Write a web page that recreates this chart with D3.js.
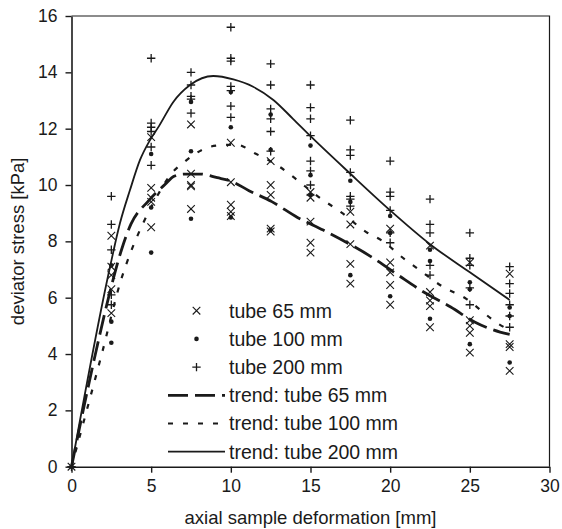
<!DOCTYPE html>
<html>
<head>
<meta charset="utf-8">
<script src="https://cdn.jsdelivr.net/npm/d3@7"></script>
<style>
  html, body { margin: 0; padding: 0; background: #fff; }
  svg { display: block; }
  text { font-family: "Liberation Sans", Arial, Helvetica, sans-serif; fill: #1a1a1a; }
</style>
</head>
<body>
<svg id="chart" width="562" height="529"></svg>
<script>
// ---------- data ----------
const xPositions = [0, 2.5, 5, 7.5, 10, 12.5, 15, 17.5, 20, 22.5, 25, 27.5];

const tube65 = [
  [0],
  [8.2, 7.1, 6.8, 6.3, 5.45],
  [11.7, 9.9, 9.55, 9.4, 8.5],
  [12.15, 10.4, 10.0, 9.95, 9.15],
  [11.5, 10.1, 9.3, 9.05, 8.9],
  [10.85, 10.0, 9.65, 8.45, 8.35],
  [9.75, 9.55, 8.7, 7.95, 7.6],
  [9.05, 8.6, 7.9, 7.2, 6.5],
  [8.45, 7.25, 6.9, 6.45, 5.75],
  [7.85, 6.2, 5.9, 5.7, 4.95],
  [7.25, 5.2, 5.0, 4.75, 4.05],
  [6.85, 4.35, 4.25, 3.4]
];

const tube100 = [
  [0],
  [7.15, 5.15, 4.4],
  [11.1, 9.2, 7.6],
  [12.95, 11.2, 8.8],
  [13.3, 12.05, 8.85],
  [12.5, 11.25, 8.4],
  [11.4, 10.35, 9.65],
  [10.15, 9.4, 6.8],
  [8.9, 8.3, 6.05],
  [7.7, 7.3, 5.25],
  [6.55, 6.3, 4.35],
  [5.65, 5.35, 3.7]
];

const tube200 = [
  [0],
  [9.6, 8.6, 7.7, 6.1, 5.75],
  [14.5, 12.2, 12.05, 11.9, 11.35, 10.7],
  [14.0, 13.55, 13.15, 13.05, 12.55],
  [15.6, 14.5, 14.4, 13.5, 13.35, 12.8, 12.4],
  [14.3, 13.55, 12.7, 12.35, 11.9, 11.2],
  [13.55, 12.75, 12.35, 11.75, 10.85, 10.5, 10.0],
  [12.3, 11.25, 11.05, 10.45, 9.6, 9.5, 9.25],
  [10.85, 9.75, 9.6, 9.1, 8.3, 7.95],
  [9.5, 8.6, 8.3, 7.15, 6.8],
  [8.3, 7.4, 7.15, 6.35, 5.75],
  [7.1, 6.5, 6.15, 5.75, 5.35, 4.95]
];

const trend65X = [0, 1.5, 2.5, 3.15, 3.73, 4.82, 5.98, 6.4, 7.06, 8.07, 9.15, 10, 11.14, 12.57, 14.18, 15.8, 17.4, 18.9, 20.5, 22.1, 23.8, 25.3, 26.9, 27.5];
const trend65Y = [0, 4.0, 6.4, 7.72, 8.61, 9.43, 10.08, 10.3, 10.39, 10.39, 10.26, 10.14, 9.8, 9.41, 8.85, 8.4, 7.92, 7.42, 6.8, 6.2, 5.67, 5.14, 4.78, 4.7];

const trend100X = [0, 1.9, 3.13, 3.74, 4.5, 5.35, 6.37, 7.0, 7.75, 8.7, 9.6, 10.3, 11.6, 13, 14, 15.5, 17, 18.5, 19.5, 20.9, 21.8, 23.3, 24.8, 25.8, 26.6, 27.5];
const trend100Y = [0, 4.0, 6.67, 7.65, 8.65, 9.58, 10.47, 10.78, 11.1, 11.36, 11.42, 11.44, 11.1, 10.67, 10.25, 9.58, 9.0, 8.33, 8.02, 7.37, 7.0, 6.39, 5.95, 5.5, 5.14, 4.85];

const trend200X = [0, 2.42, 3.04, 3.67, 4.3, 4.93, 5.5, 6.39, 7.44, 8.9, 10.16, 11.4, 12.67, 13.9, 14.97, 17.5, 20, 22.5, 25, 27.5];
const trend200Y = [0, 7.1, 8.64, 9.82, 10.89, 11.6, 12.1, 12.95, 13.55, 13.87, 13.75, 13.49, 13.02, 12.35, 11.75, 10.4, 9.1, 7.9, 6.9, 5.92];

const xTicks = [0, 5, 10, 15, 20, 25, 30];
const yTicks = [0, 2, 4, 6, 8, 10, 12, 14, 16];

const legendLabels = ["tube 65 mm", "tube 100 mm", "tube 200 mm", "trend: tube 65 mm", "trend: tube 100 mm", "trend: tube 200 mm"];

// ---------- layout ----------
const svg = d3.select("#chart");
const x = d3.scaleLinear().domain([0, 30]).range([71.5, 549.5]);
const y = d3.scaleLinear().domain([0, 16]).range([466.7, 16]);
const ink = "#1a1a1a";

// axes
const xAxis = d3.axisBottom(x).tickValues(xTicks).tickSize(6).tickPadding(7).tickSizeOuter(0);
const yAxis = d3.axisLeft(y).tickValues(yTicks).tickSize(6).tickPadding(8).tickSizeOuter(0);

const gx = svg.append("g").attr("transform", `translate(0,${y(0)})`).call(xAxis);
const gy = svg.append("g").attr("transform", `translate(${x(0)},0)`).call(yAxis);
[gx, gy].forEach(g => {
  g.select(".domain").attr("stroke", ink).attr("stroke-width", 1.6);
  g.selectAll(".tick line").attr("stroke", ink).attr("stroke-width", 1.4);
  g.selectAll(".tick text").attr("fill", ink).style("font-size", "17.5px")
    .style("font-family", '"Liberation Sans", Arial, sans-serif');
});

// frame top/right
svg.append("path")
  .attr("d", `M${x(0)},${y(16)}H${x(30)}V${y(0)}`)
  .attr("fill", "none").attr("stroke", ink).attr("stroke-width", 1.2);

// axis titles
svg.append("text").attr("x", (x(0) + x(30)) / 2).attr("y", 524)
  .attr("text-anchor", "middle").style("font-size", "18.5px")
  .text("axial sample deformation [mm]");
svg.append("text")
  .attr("transform", `translate(24,${(y(0) + y(16)) / 2}) rotate(-90)`)
  .attr("text-anchor", "middle").style("font-size", "18.5px")
  .text("deviator stress [kPa]");

// ---------- trend lines ----------
const line = d3.line().x(d => x(d[0])).y(d => y(d[1])).curve(d3.curveMonotoneX);
const trends = [
  { xs: trend65X, ys: trend65Y, w: 2.8, dash: "20,7" },
  { xs: trend100X, ys: trend100Y, w: 2.2, dash: "5,10" },
  { xs: trend200X, ys: trend200Y, w: 1.8, dash: null }
];
trends.forEach(t => {
  const pts = t.xs.map((v, i) => [v, t.ys[i]]);
  const p = svg.append("path").datum(pts).attr("d", line)
    .attr("fill", "none").attr("stroke", ink).attr("stroke-width", t.w);
  if (t.dash) p.attr("stroke-dasharray", t.dash);
});

// ---------- markers ----------
function flatten(series) {
  const out = [];
  series.forEach((vals, i) => vals.forEach(v => out.push([xPositions[i], v])));
  return out;
}
const crossSym = d3.symbol().type(d3.symbolX).size(48);
const plusSym = d3.symbol().type(d3.symbolCross).size(40);

function drawX(g, cx, cy, s) {
  g.append("path").attr("d", `M${cx - s},${cy - s}L${cx + s},${cy + s}M${cx - s},${cy + s}L${cx + s},${cy - s}`)
    .attr("stroke", ink).attr("stroke-width", 1.1).attr("fill", "none");
}
function drawPlus(g, cx, cy, s) {
  g.append("path").attr("d", `M${cx - s},${cy}H${cx + s}M${cx},${cy - s}V${cy + s}`)
    .attr("stroke", ink).attr("stroke-width", 1.3).attr("fill", "none");
}
const mk = svg.append("g");
flatten(tube65).forEach(d => drawX(mk, x(d[0]), y(d[1]), 3.8));
flatten(tube100).forEach(d => mk.append("circle").attr("cx", x(d[0])).attr("cy", y(d[1])).attr("r", 2.3).attr("fill", ink));
flatten(tube200).forEach(d => drawPlus(mk, x(d[0]), y(d[1]), 4.2));

// ---------- legend ----------
const lg = svg.append("g");
const legX0 = 168, legX1 = 225, legMarkX = 196.5, legTextX = 229, legY0 = 310.7, legStep = 28.2;
legendLabels.forEach((lab, i) => {
  const cy = legY0 + i * legStep;
  if (i === 0) drawX(lg, legMarkX, cy, 3.8);
  if (i === 1) lg.append("circle").attr("cx", legMarkX).attr("cy", cy).attr("r", 2.3).attr("fill", ink);
  if (i === 2) drawPlus(lg, legMarkX, cy, 4.2);
  if (i >= 3) {
    const t = trends[i - 3];
    const p = lg.append("line").attr("x1", legX0).attr("x2", legX1).attr("y1", cy).attr("y2", cy)
      .attr("stroke", ink).attr("stroke-width", t.w);
    if (t.dash) p.attr("stroke-dasharray", t.dash);
  }
  lg.append("text").attr("x", legTextX).attr("y", cy).attr("dy", "0.35em")
    .style("font-size", "19.5px").text(lab);
});
</script>
</body>
</html>
